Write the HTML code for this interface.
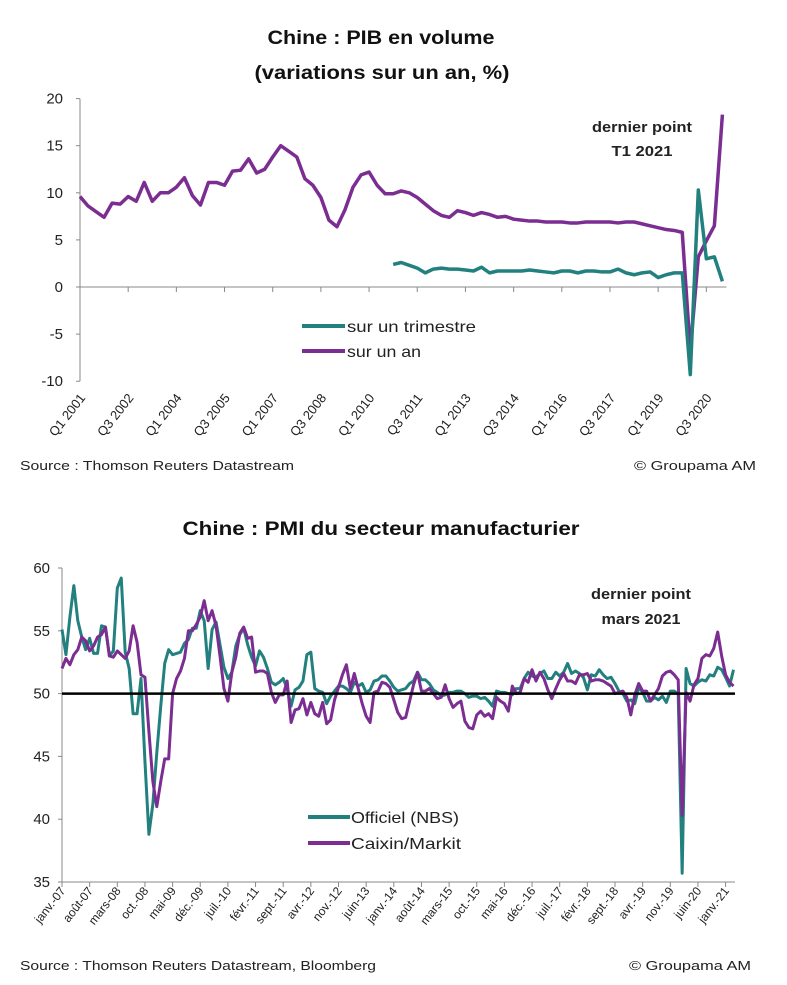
<!DOCTYPE html>
<html><head><meta charset="utf-8"><style>
html,body{margin:0;padding:0;background:#fff;}
svg{display:block;font-family:"Liberation Sans",sans-serif;}
</style></head><body>
<svg id="svg" width="787" height="985" viewBox="0 0 787 985">
<g id="c1"></g>
<g id="c2"></g>
</svg>
<script>
// ---------- Chart 1 data ----------
const gdpTickLabels = ["Q1 2001","Q3 2002","Q1 2004","Q3 2005","Q1 2007","Q3 2008","Q1 2010","Q3 2011","Q1 2013","Q3 2014","Q1 2016","Q3 2017","Q1 2019","Q3 2020"];
const gdpYoY = [9.6,8.6,8.0,7.4,8.9,8.8,9.6,9.1,11.1,9.1,10.0,10.0,10.6,11.6,9.7,8.7,11.1,11.1,10.8,12.3,12.4,13.6,12.1,12.5,13.8,15.0,14.4,13.8,11.5,10.8,9.5,7.1,6.4,8.2,10.6,11.9,12.2,10.8,9.9,9.9,10.2,10.0,9.5,8.8,8.1,7.6,7.4,8.1,7.9,7.6,7.9,7.7,7.4,7.5,7.2,7.1,7.0,7.0,6.9,6.9,6.9,6.8,6.8,6.9,6.9,6.9,6.9,6.8,6.9,6.9,6.7,6.5,6.3,6.1,6.0,5.8,-6.8,3.2,4.9,6.5,18.3];
const gdpQoQStart = 39;
const gdpQoQ = [2.4,2.6,2.3,2.0,1.5,1.9,2.0,1.9,1.9,1.8,1.7,2.1,1.5,1.7,1.7,1.7,1.7,1.8,1.7,1.6,1.5,1.7,1.7,1.5,1.7,1.7,1.6,1.6,1.9,1.5,1.3,1.5,1.6,1.0,1.3,1.5,1.5,-9.3,10.3,3.0,3.2,0.6];
const gdpYTicks = [20,15,10,5,0,-5,-10];

// ---------- Chart 2 data ----------
const pmiTickLabels = ["janv.-07","août-07","mars-08","oct.-08","mai-09","déc.-09","juil.-10","févr.-11","sept.-11","avr.-12","nov.-12","juin-13","janv.-14","août-14","mars-15","oct.-15","mai-16","déc.-16","juil.-17","févr.-18","sept.-18","avr.-19","nov.-19","juin-20","janv.-21"];
const pmiOfficial = [55.1,53.1,56.1,58.6,55.8,54.5,53.5,54.4,53.2,53.2,55.4,55.3,
53.0,53.4,58.4,59.2,53.3,52.0,48.4,48.4,51.2,44.6,38.8,41.2,
45.3,49.0,52.4,53.5,53.1,53.2,53.3,54.0,54.3,55.2,55.2,56.6,
55.8,52.0,55.1,55.7,53.9,52.1,51.2,51.7,53.8,54.7,55.2,53.9,
52.9,52.2,53.4,52.9,52.0,50.9,50.7,50.9,51.2,50.4,49.0,50.3,
50.5,51.0,53.1,53.3,50.4,50.2,50.1,49.2,49.8,50.2,50.6,50.6,
50.4,50.1,50.9,50.6,50.8,50.1,50.3,51.0,51.1,51.4,51.4,51.0,
50.5,50.2,50.3,50.4,50.8,51.0,51.7,51.1,51.1,50.8,50.3,50.1,
49.8,49.9,50.1,50.1,50.2,50.2,50.0,49.7,49.8,49.8,49.6,49.7,
49.4,49.0,50.2,50.1,50.1,50.0,49.9,50.4,50.4,51.2,51.7,51.4,
51.3,51.6,51.8,51.2,51.2,51.7,51.4,51.7,52.4,51.6,51.8,51.6,
51.3,50.3,51.5,51.4,51.9,51.5,51.2,51.3,50.8,50.2,50.0,49.4,
49.5,49.2,50.5,50.1,49.4,49.4,49.7,49.5,49.8,49.3,50.2,50.2,
50.0,35.7,52.0,50.8,50.6,50.9,51.1,51.0,51.5,51.4,52.1,51.9,
51.3,50.6,51.9];
const pmiCaixin = [52.0,52.8,52.3,53.1,53.5,54.5,54.2,53.4,53.8,54.5,54.7,55.3,
53.0,52.9,53.4,53.1,52.8,53.4,55.4,54.1,51.5,51.3,47.0,43.0,
41.0,43.0,44.8,44.8,50.0,51.2,51.8,52.8,55.0,55.0,55.5,56.1,
57.4,55.8,56.6,55.4,53.0,50.4,49.4,51.7,52.9,54.8,55.3,54.4,
54.5,51.7,51.8,51.8,51.6,50.1,49.3,49.9,49.9,51.0,47.7,48.7,
48.8,49.6,48.3,49.3,48.4,48.2,49.3,47.6,47.9,49.5,50.5,51.5,
52.3,50.4,51.6,50.4,49.2,48.2,47.7,50.1,50.2,50.9,50.8,50.5,
49.5,48.5,48.0,48.1,49.4,50.7,51.7,50.2,50.2,50.4,50.0,49.6,
49.7,50.7,49.6,48.9,49.2,49.4,47.8,47.3,47.2,48.3,48.6,48.2,
48.4,48.0,49.7,49.4,49.2,48.6,50.6,50.0,50.1,51.2,50.9,51.9,
51.0,51.7,51.2,50.3,49.6,50.4,51.1,51.6,51.0,51.0,50.8,51.5,
51.5,51.6,51.0,51.1,51.1,51.0,50.8,50.6,50.0,50.1,50.2,49.7,
48.3,49.9,50.8,50.2,50.2,49.4,49.9,50.4,51.4,51.7,51.8,51.5,
51.1,40.3,50.1,49.4,50.7,51.2,52.8,53.1,53.0,53.6,54.9,53.0,
51.5,50.9,50.6];
const pmiYTicks = [60,55,50,45,40,35];

const NS = "http://www.w3.org/2000/svg";
function mk(parent, tag, attrs, txt){
  const e = document.createElementNS(NS, tag);
  for (const k in attrs) e.setAttribute(k, attrs[k]);
  if (txt !== undefined) e.textContent = txt;
  parent.appendChild(e);
  return e;
}
const TEAL = "#22807f", PURPLE = "#7b2d92";

// ---------- Chart 1 ----------
(function(){
  const g = document.getElementById('c1');
  const x0 = 80, dx = 8.03;
  const xq = i => x0 + i*dx;
  const yv = v => 287 - v*9.42;
  const xEnd = xq(gdpYoY.length - 1) + 4;
  let t;
  t = mk(g,'text',{x:381,y:44,'text-anchor':'middle','font-size':19,'font-weight':'bold',textLength:227,lengthAdjust:'spacingAndGlyphs',fill:'#111'},'Chine : PIB en volume');
   
  t = mk(g,'text',{x:382,y:79,'text-anchor':'middle','font-size':19,'font-weight':'bold',textLength:255,lengthAdjust:'spacingAndGlyphs',fill:'#111'},'(variations sur un an, %)');
   
  let a = mk(g,'line',{x1:80,y1:yv(20),x2:80,y2:yv(-10),stroke:'#888','stroke-width':1});
   
  gdpYTicks.forEach(v=>{
    mk(g,'line',{x1:76,y1:yv(v),x2:80,y2:yv(v),stroke:'#888'});
    const l = mk(g,'text',{x:63,y:yv(v)+5,'text-anchor':'end','font-size':15,fill:'#222'},String(v));
     
  });
  a = mk(g,'line',{x1:80,y1:yv(0),x2:xEnd,y2:yv(0),stroke:'#888','stroke-width':1});
   
  gdpTickLabels.forEach((lab,k)=>{
    const i = k*6;
    const tx = xq(i)+dx*6;
    if (tx < xEnd) mk(g,'line',{x1:tx,y1:yv(0),x2:tx,y2:yv(0)+5,stroke:'#888'});
    const l = mk(g,'text',{x:0,y:0,'text-anchor':'end','font-size':13,fill:'#222',transform:`translate(${xq(i)+6},${398}) rotate(-52)`},lab);
     
  });
  let p = mk(g,'polyline',{points:gdpYoY.map((v,i)=>xq(i)+','+yv(v)).join(' '),fill:'none',stroke:PURPLE,'stroke-width':3.5,'stroke-linejoin':'round'});
   
  p = mk(g,'polyline',{points:gdpQoQ.map((v,i)=>xq(i+gdpQoQStart)+','+yv(v)).join(' '),fill:'none',stroke:TEAL,'stroke-width':3.5,'stroke-linejoin':'round'});
   
  mk(g,'line',{x1:302,y1:326,x2:345,y2:326,stroke:TEAL,'stroke-width':4});
  t = mk(g,'text',{x:347,y:332,'font-size':16,textLength:129,lengthAdjust:'spacingAndGlyphs',fill:'#222'},'sur un trimestre');
   
  mk(g,'line',{x1:302,y1:351,x2:345,y2:351,stroke:PURPLE,'stroke-width':4});
  t = mk(g,'text',{x:347,y:357,'font-size':16,textLength:74,lengthAdjust:'spacingAndGlyphs',fill:'#222'},'sur un an');
   
  t = mk(g,'text',{x:642,y:132,'text-anchor':'middle','font-size':15,'font-weight':'bold',textLength:100,lengthAdjust:'spacingAndGlyphs',fill:'#222'},'dernier point');
   
  t = mk(g,'text',{x:642,y:156,'text-anchor':'middle','font-size':15,'font-weight':'bold',textLength:61,lengthAdjust:'spacingAndGlyphs',fill:'#222'},'T1 2021');
   
  t = mk(g,'text',{x:20,y:470,'font-size':13,textLength:274,lengthAdjust:'spacingAndGlyphs',fill:'#222'},'Source :  Thomson Reuters Datastream');
   
  t = mk(g,'text',{x:634,y:470,'font-size':13,textLength:122,lengthAdjust:'spacingAndGlyphs',fill:'#222'},'© Groupama AM');
   
})();

// ---------- Chart 2 ----------
(function(){
  const g = document.getElementById('c2');
  const x0 = 62, dx = 3.95;
  const xm = i => x0 + i*dx;
  const yv = v => 882 - (v-35)*12.56;
  const xEnd = 735;
  let t = mk(g,'text',{x:381,y:535,'text-anchor':'middle','font-size':19,'font-weight':'bold',textLength:397,lengthAdjust:'spacingAndGlyphs',fill:'#111'},'Chine : PMI du secteur manufacturier');
   
  let a = mk(g,'line',{x1:62,y1:yv(60),x2:62,y2:yv(35),stroke:'#888'});
   
  pmiYTicks.forEach(v=>{
    mk(g,'line',{x1:58,y1:yv(v),x2:62,y2:yv(v),stroke:'#888'});
    const l = mk(g,'text',{x:50,y:yv(v)+5,'text-anchor':'end','font-size':15,fill:'#222'},String(v));
     
  });
  a = mk(g,'line',{x1:62,y1:yv(35),x2:xEnd,y2:yv(35),stroke:'#888'});
   
  pmiTickLabels.forEach((lab,k)=>{
    const i = k*7;
    mk(g,'line',{x1:xm(i),y1:yv(35),x2:xm(i),y2:yv(35)+5,stroke:'#888'});
    const l = mk(g,'text',{x:0,y:0,'text-anchor':'end','font-size':12,fill:'#222',transform:`translate(${xm(i)+4},${891}) rotate(-52)`},lab);
     
  });
  let p = mk(g,'polyline',{points:pmiOfficial.map((v,i)=>xm(i)+','+yv(v)).join(' '),fill:'none',stroke:TEAL,'stroke-width':3,'stroke-linejoin':'round'});
   
  p = mk(g,'polyline',{points:pmiCaixin.map((v,i)=>xm(i)+','+yv(v)).join(' '),fill:'none',stroke:PURPLE,'stroke-width':3,'stroke-linejoin':'round'});
   
  const ref = mk(g,'line',{x1:62,y1:yv(50),x2:xEnd,y2:yv(50),stroke:'#000','stroke-width':2.5});
   
  mk(g,'line',{x1:308,y1:817,x2:350,y2:817,stroke:TEAL,'stroke-width':4});
  t = mk(g,'text',{x:351,y:823,'font-size':16,textLength:108,lengthAdjust:'spacingAndGlyphs',fill:'#222'},'Officiel (NBS)');
   
  mk(g,'line',{x1:308,y1:843,x2:350,y2:843,stroke:PURPLE,'stroke-width':4});
  t = mk(g,'text',{x:351,y:849,'font-size':16,textLength:110,lengthAdjust:'spacingAndGlyphs',fill:'#222'},'Caixin/Markit');
   
  t = mk(g,'text',{x:641,y:599,'text-anchor':'middle','font-size':15,'font-weight':'bold',textLength:100,lengthAdjust:'spacingAndGlyphs',fill:'#222'},'dernier point');
   
  t = mk(g,'text',{x:641,y:624,'text-anchor':'middle','font-size':15,'font-weight':'bold',textLength:79,lengthAdjust:'spacingAndGlyphs',fill:'#222'},'mars 2021');
   
  t = mk(g,'text',{x:20,y:970,'font-size':13,textLength:356,lengthAdjust:'spacingAndGlyphs',fill:'#222'},'Source : Thomson Reuters Datastream, Bloomberg');
   
  t = mk(g,'text',{x:629,y:970,'font-size':13,textLength:122,lengthAdjust:'spacingAndGlyphs',fill:'#222'},'© Groupama AM');
   
})();
</script>
</body></html>
